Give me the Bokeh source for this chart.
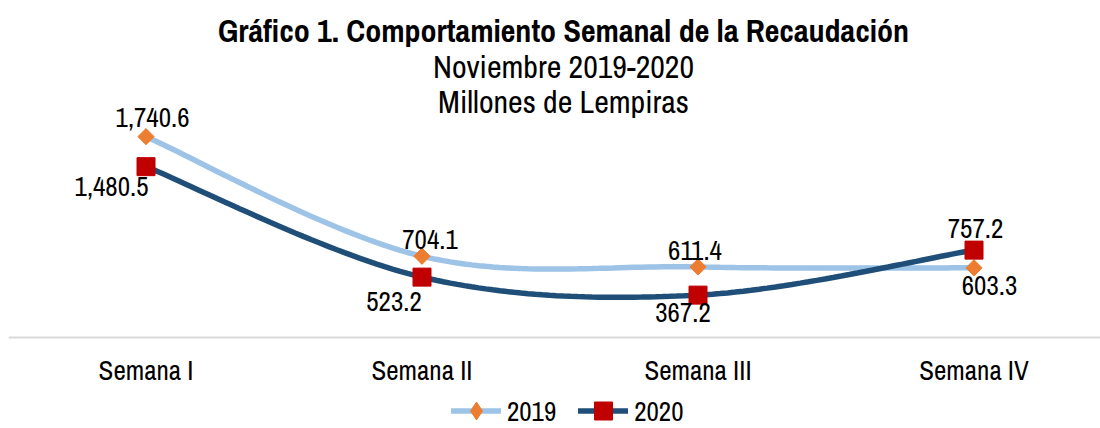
import numpy as np
from bokeh.plotting import figure
from bokeh.models import Range1d, FixedTicker, Label, Legend, LegendItem, ColumnDataSource
from bokeh.core.properties import value
from bokeh.embed import file_html
from bokeh.resources import INLINE

# ---- data ----
weeks = ["Semana I", "Semana II", "Semana III", "Semana IV"]
rec_2019 = [1740.6, 704.1, 611.4, 603.3]
rec_2020 = [1480.5, 523.2, 367.2, 757.2]
series_names = ["2019", "2020"]
title_text = "Gráfico 1. Comportamiento Semanal de la Recaudación"
subtitle_1 = "Noviembre 2019-2020"
subtitle_2 = "Millones de Lempiras"

# ---- style ----
FONT = "'Archivo Narrow', 'Roboto Condensed', 'DejaVu Sans Condensed', sans-serif"
FS = "27px"
FS_TITLE = "32px"
C19_LINE, C19_MARK = "#9DC3E6", "#ED7D31"
C20_LINE, C20_MARK = "#1F4E79", "#C00000"
off19 = [(6.5, -19), (8, -17), (-3, -16), (15.5, 17.5)]
off20 = [(-34.5, 20), (-28, 24), (-15, 17), (1.5, -21.5)]


def smooth(xs, ys, n=40):
    pts = np.column_stack([xs, ys]).astype(float)
    m = len(pts)
    out = []
    t = np.linspace(0, 1, n)[:, None]
    for i in range(m - 1):
        p0 = pts[max(i - 1, 0)]
        p1 = pts[i]
        p2 = pts[i + 1]
        p3 = pts[min(i + 2, m - 1)]
        c1 = p1 + (p2 - p0) / 6
        c2 = p2 - (p3 - p1) / 6
        seg = (1 - t) ** 3 * p1 + 3 * (1 - t) ** 2 * t * c1 + 3 * (1 - t) * t ** 2 * c2 + t ** 3 * p2
        out.append(seg if i == 0 else seg[1:])
    s = np.vstack(out)
    return s[:, 0], s[:, 1]


xs = list(range(len(weeks)))

p = figure(width=1100, height=428,
           x_range=Range1d(-0.4982, 3.4583), y_range=Range1d(-788.6, 2920.3),
           y_axis_location=None, output_backend="svg", toolbar_location=None,
           min_border_left=8, min_border_right=0, min_border_top=0, min_border_bottom=0)
p.outline_line_color = None
p.grid.visible = False
p.background_fill_color = "white"
p.border_fill_color = "white"

ax = p.xaxis[0]
ax.fixed_location = 0
ax.ticker = FixedTicker(ticks=xs)
ax.major_label_overrides = {i: w for i, w in enumerate(weeks)}
ax.axis_line_color = "#D9D9D9"
ax.axis_line_width = 2
ax.major_tick_line_color = None
ax.minor_tick_line_color = None
ax.major_tick_out = 0
ax.major_tick_in = 0
ax.major_label_standoff = 15
ax.major_label_text_font = FONT
ax.major_label_text_font_size = FS
ax.major_label_text_color = "black"

sx19, sy19 = smooth(xs, rec_2019)
sx20, sy20 = smooth(xs, rec_2020)
l19 = p.line(sx19, sy19, line_color=C19_LINE, line_width=5.5, line_cap="round")
l20 = p.line(sx20, sy20, line_color=C20_LINE, line_width=5.5, line_cap="round")
# diamond glyph (used by the legend), covered by the 45-degree squares in the plot
leg19 = p.scatter(xs, rec_2019, marker="diamond", size=15, fill_color=C19_MARK, line_color=C19_MARK)
m19 = p.scatter(xs, rec_2019, marker="square", size=11.5, angle=np.pi / 4,
                fill_color=C19_MARK, line_color=C19_MARK)
m20 = p.scatter(xs, rec_2020, marker="square", size=18,
                fill_color=C20_MARK, line_color=C20_MARK)

for vals, offs in ((rec_2019, off19), (rec_2020, off20)):
    src = ColumnDataSource(dict(
        x=xs, y=vals, t=[f"{v:,.1f}" for v in vals],
        dx=[o[0] for o in offs], dy=[o[1] for o in offs]))
    p.text(x="x", y="y", text="t", x_offset="dx", y_offset="dy", source=src,
           text_align="center", text_baseline="middle", text_font=value(FONT),
           text_font_size=FS, text_color="black")

for txt, yy, bold in ((title_text, 398, True), (subtitle_1, 362, False), (subtitle_2, 327, False)):
    p.add_layout(Label(x=555, y=yy, x_units="screen", y_units="screen", text=txt,
                       text_align="center", text_baseline="middle", text_font=FONT,
                       text_font_size=FS_TITLE, text_font_style="bold" if bold else "normal",
                       text_color="black"))

legend = Legend(items=[LegendItem(label=series_names[0], renderers=[l19, leg19]),
                       LegendItem(label=series_names[1], renderers=[l20, m20])],
                location=(443, -5), orientation="horizontal",
                glyph_width=50, glyph_height=45, label_standoff=6, spacing=22,
                padding=0, margin=0, border_line_color=None, background_fill_alpha=0,
                label_text_font=FONT, label_text_font_size=FS, label_text_color="black")
p.add_layout(legend, "center")

open("out.html", "w").write(file_html(p, INLINE))
